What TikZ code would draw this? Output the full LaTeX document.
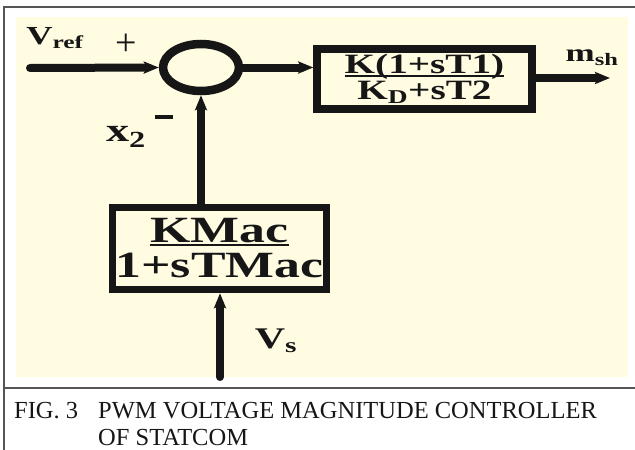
\documentclass[tikz,border=0pt]{standalone}
\usepackage{fontspec}
\usepackage{tikz}
\usepackage{xcolor}
\usetikzlibrary{shapes.geometric, arrows.meta, positioning, calc}
\setmainfont{Liberation Serif}
\newfontfamily\blockfont[FakeStretch=1.4]{Liberation Serif}
\definecolor{panelYellow}{RGB}{255,252,226}
\definecolor{frameGray}{RGB}{85,85,85}
\definecolor{sigInk}{RGB}{22,22,22}
\newcommand{\numbar}[1]{\setbox0\hbox{#1}\rlap{\color{sigInk}\rule[-3.5pt]{\wd0}{2.6pt}}\box0}

\begin{document}
\begin{tikzpicture}[x=1pt, y=-1pt,
      block/.style={draw=sigInk, line width=7.5pt, inner xsep=0pt, inner ysep=0pt, align=center,
      text=sigInk, font=\blockfont\bfseries},
      summer/.style={ellipse, draw=sigInk, line width=8.5pt, inner sep=0pt, minimum width=76pt, minimum height=47pt},
      sig/.style={draw=sigInk, line width=8pt, line cap=round, -{Stealth[length=15pt, width=12pt, inset=3pt]}},
      lbl/.style={text=sigInk, font=\blockfont\bfseries, inner sep=0pt}
    ]
    \useasboundingbox (0,0) rectangle (635,450);
    \fill[panelYellow] (16,17) rectangle (628,377);
    \draw[frameGray, line width=2pt] (635,7) -- (4,7) -- (4,450);
    \draw[frameGray, line width=2pt] (4,388) -- (635,388);

    \node[summer] (sum) at (201,67.5) {};
    \node[block, minimum width=215pt, minimum height=60pt, font=\blockfont\bfseries\fontsize{28}{24}\selectfont]
      (ctrl) at (424.5,79) {\numbar{K(1+sT1)}\\K\textsubscript{D}+sT2};
    \node[block, minimum width=214pt, minimum height=82pt, font=\blockfont\bfseries\fontsize{37}{35}\selectfont]
      (mac) at (219.5,248.5) {\numbar{KMac}\\1+sTMac};

    \coordinate (vref) at (30,68);
    \coordinate (msh) at (610,78);
    \coordinate (vsin) at (220,377);

    \draw[sig] (vref) -- (sum.west);
    \draw[sig] (sum.east) -- (sum.east -| ctrl.west);
    \draw[sig] (ctrl.east |- msh) -- (msh);
    \draw[sig] (sum.south |- mac.north) -- (sum.south);
    \draw[sig] (vsin) -- (vsin |- mac.south);

    \node[lbl, font=\blockfont\bfseries\fontsize{26}{26}\selectfont] (vreflbl) at (55,38) {V\textsubscript{ref}};
    \node[lbl, font=\fontsize{38}{38}\selectfont] (plus) at (126,45) {+};
    \node[lbl, fill=sigInk, minimum width=18pt, minimum height=4pt] (minus) at (164,117) {};
    \node[lbl, font=\blockfont\bfseries\fontsize{33}{33}\selectfont] (x2lbl) at (126,137) {x\textsubscript{2}};
    \node[lbl, font=\blockfont\bfseries\fontsize{25}{25}\selectfont] (mshlbl) at (592,58) {m\textsubscript{sh}};
    \node[lbl, font=\blockfont\bfseries\fontsize{30}{30}\selectfont] (vslbl) at (276,341) {V\textsubscript{s}};

    \node[anchor=north west, inner sep=0pt, text=sigInk, font=\fontsize{24.5}{27}\selectfont] (fig) at (14,402) {FIG. 3};
    \node[anchor=north west, inner sep=0pt, text=sigInk, align=left, font=\fontsize{24.5}{27}\selectfont]
      (caption) at (98,402) {PWM VOLTAGE MAGNITUDE CONTROLLER\\OF STATCOM};
  \end{tikzpicture}
\end{document}
